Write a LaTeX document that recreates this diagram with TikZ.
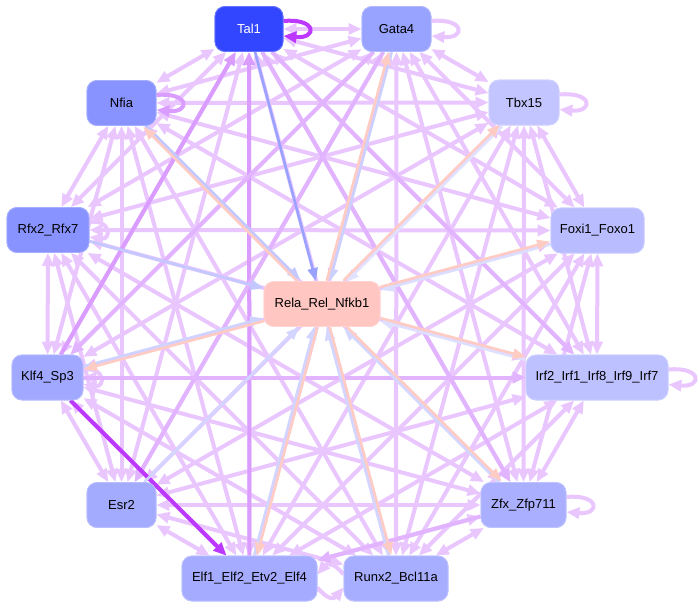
\documentclass[tikz,border=0pt]{standalone}
\usepackage{fontspec}
\setmainfont{Liberation Sans}
\usetikzlibrary{arrows.meta,calc}
\definecolor{cTal}{HTML}{3346FF}
\definecolor{cGata}{HTML}{98A2FF}
\definecolor{cNfia}{HTML}{8893FF}
\definecolor{cRfx}{HTML}{8893FF}
\definecolor{cTbx}{HTML}{C2C5FF}
\definecolor{cFoxi}{HTML}{B9BDFF}
\definecolor{cKlf}{HTML}{A0A8FF}
\definecolor{cIrf}{HTML}{BDC1FF}
\definecolor{cEsr}{HTML}{A3ABFF}
\definecolor{cZfx}{HTML}{AAB0FF}
\definecolor{cElf}{HTML}{A5ACFF}
\definecolor{cRunx}{HTML}{A7AEFF}
\definecolor{cRela}{HTML}{FFC6C2}
\definecolor{eLav}{HTML}{EAC6FF}
\definecolor{eMid}{HTML}{E2B4FF}
\definecolor{eMed}{HTML}{DA9CFF}
\definecolor{eDark}{HTML}{BC38FF}
\definecolor{ePink}{HTML}{FFCCC4}
\newcommand\relapair[4]{%
  \draw[relaE, draw=#4!50!white, transform canvas={shift={(#2,#3)}}] (#1) -- (rela);
  \draw[relaE, draw=ePink, transform canvas={shift={(-#2,-#3)}}] (rela) -- (#1);}
\newcommand\relaone[2]{%
  \draw[relaE, draw=#2!50!white] (#1) -- (rela);}
\newcommand\selfloop[3]{% node, colour, reach
  \draw[one=#2] ($(#1.east)+(0,-8)$) .. controls +(#3,-3) and +(#3,3) .. ($(#1.east)+(0,7)$);}
\begin{document}
\begin{tikzpicture}[x=1pt,y=-1pt,
  nd/.style={rounded corners=10pt, draw=#1!75!white, fill=#1, line width=0.8pt,
    minimum height=45pt, inner sep=0pt, font=\fontsize{13}{15}\selectfont},
  lav/.style={draw=eLav, line width=4pt, {Triangle[length=13pt,width=11pt]}-{Triangle[length=13pt,width=11pt]}},
  one/.style={draw=#1, line width=4pt, -{Triangle[length=13pt,width=11pt]}},
  relaE/.style={line width=2.6pt, -{Triangle[length=13pt,width=10pt]}}
]
\useasboundingbox (0,0) rectangle (699,608);
\path[fill=white] (0,0) rectangle (699,608);

% nodes (placed first for naming; redrawn on top at the end)
\node[nd=cTal, text=white, minimum width=68pt] (tal) at (249,29) {Tal1};
\node[nd=cGata, minimum width=69pt] (gata) at (396.5,29) {Gata4};
\node[nd=cNfia, minimum width=69pt] (nfia) at (121.5,103) {Nfia};
\node[nd=cTbx, minimum width=70pt] (tbx) at (524,102.5) {Tbx15};
\node[nd=cRfx, minimum width=82pt] (rfx) at (48,230) {Rfx2\_Rfx7};
\node[nd=cFoxi, minimum width=93pt] (foxi) at (597.5,230.5) {Foxi1\_Foxo1};
\node[nd=cRela, minimum width=116pt] (rela) at (322,304) {Rela\_Rel\_Nfkb1};
\node[nd=cKlf, minimum width=71pt] (klf) at (47.5,377.5) {Klf4\_Sp3};
\node[nd=cIrf, minimum width=142pt] (irf) at (597,377.5) {Irf2\_Irf1\_Irf8\_Irf9\_Irf7};
\node[nd=cEsr, minimum width=69pt] (esr) at (121.5,505) {Esr2};
\node[nd=cZfx, minimum width=85pt] (zfx) at (523.5,505) {Zfx\_Zfp711};
\node[nd=cElf, minimum width=135pt] (elf) at (249.5,578.5) {Elf1\_Elf2\_Etv2\_Elf4};
\node[nd=cRunx, minimum width=104pt] (runx) at (396,578.5) {Runx2\_Bcl11a};

% outer network
\foreach \a [count=\i] in {tal,gata,tbx,foxi,irf,zfx,runx,elf,esr,klf,rfx,nfia}{
  \foreach \b [count=\j] in {tal,gata,tbx,foxi,irf,zfx,runx,elf,esr,klf,rfx,nfia}{
    \ifnum\j>\i
      \ifnum\i\j=78 \else \draw[lav] (\a) -- (\b); \fi
    \fi
  }
}
% Elf1 <-> Runx2 arcs
\draw[one=eLav] ($(runx.west)+(0,-4)$) .. controls +(-10,-12) and +(10,-12) .. ($(elf.east)+(0,-4)$);
\draw[one=eLav] ($(elf.east)+(0,9)$) .. controls +(10,12) and +(-10,12) .. ($(runx.west)+(0,9)$);

% self loops
\selfloop{gata}{eLav}{34}
\selfloop{tbx}{eLav}{34}
\selfloop{irf}{eLav}{34}
\selfloop{zfx}{eLav}{34}
\selfloop{rfx}{eLav}{22}
\selfloop{klf}{eLav}{22}
\selfloop{nfia}{eMed}{34}
\selfloop{tal}{eDark}{34}

% darker edges
\draw[one=eMed] (elf) -- (tal);
\draw[one=eMed] (klf) -- (tal);
\draw[one=eMid] (gata) -- (esr);
\draw[one=eMid] (tal) -- (zfx);
\draw[one=eMid] (klf) -- (irf);
\draw[one=eMid] (zfx) -- (elf);
\draw[one=eMid] (gata) -- (klf);
\draw[one=eMid] (tal) -- (irf);
\draw[one=eDark] (klf) -- (elf);

% edges with Rela_Rel_Nfkb1
\relaone{tal}{cTal}
\relaone{rfx}{cRfx}
\relaone{esr}{cEsr}
\relapair{gata}{1.4}{0.38}{cGata}
\relapair{nfia}{1.0}{-1.0}{cNfia}
\relapair{tbx}{1.0}{1.0}{cTbx}
\relapair{foxi}{0.38}{1.4}{cFoxi}
\relapair{klf}{-0.38}{-1.4}{cKlf}
\relapair{irf}{-0.38}{1.4}{cIrf}
\relapair{zfx}{-1.0}{1.0}{cZfx}
\relapair{elf}{-1.4}{-0.38}{cElf}
\relapair{runx}{-1.4}{0.38}{cRunx}

% redraw nodes on top
\node[nd=cTal, text=white, minimum width=68pt] at (249,29) {Tal1};
\node[nd=cGata, minimum width=69pt] at (396.5,29) {Gata4};
\node[nd=cNfia, minimum width=69pt] at (121.5,103) {Nfia};
\node[nd=cTbx, minimum width=70pt] at (524,102.5) {Tbx15};
\node[nd=cRfx, minimum width=82pt] at (48,230) {Rfx2\_Rfx7};
\node[nd=cFoxi, minimum width=93pt] at (597.5,230.5) {Foxi1\_Foxo1};
\node[nd=cRela, minimum width=116pt] at (322,304) {Rela\_Rel\_Nfkb1};
\node[nd=cKlf, minimum width=71pt] at (47.5,377.5) {Klf4\_Sp3};
\node[nd=cIrf, minimum width=142pt] at (597,377.5) {Irf2\_Irf1\_Irf8\_Irf9\_Irf7};
\node[nd=cEsr, minimum width=69pt] at (121.5,505) {Esr2};
\node[nd=cZfx, minimum width=85pt] at (523.5,505) {Zfx\_Zfp711};
\node[nd=cElf, minimum width=135pt] at (249.5,578.5) {Elf1\_Elf2\_Etv2\_Elf4};
\node[nd=cRunx, minimum width=104pt] at (396,578.5) {Runx2\_Bcl11a};
\end{tikzpicture}
\end{document}
